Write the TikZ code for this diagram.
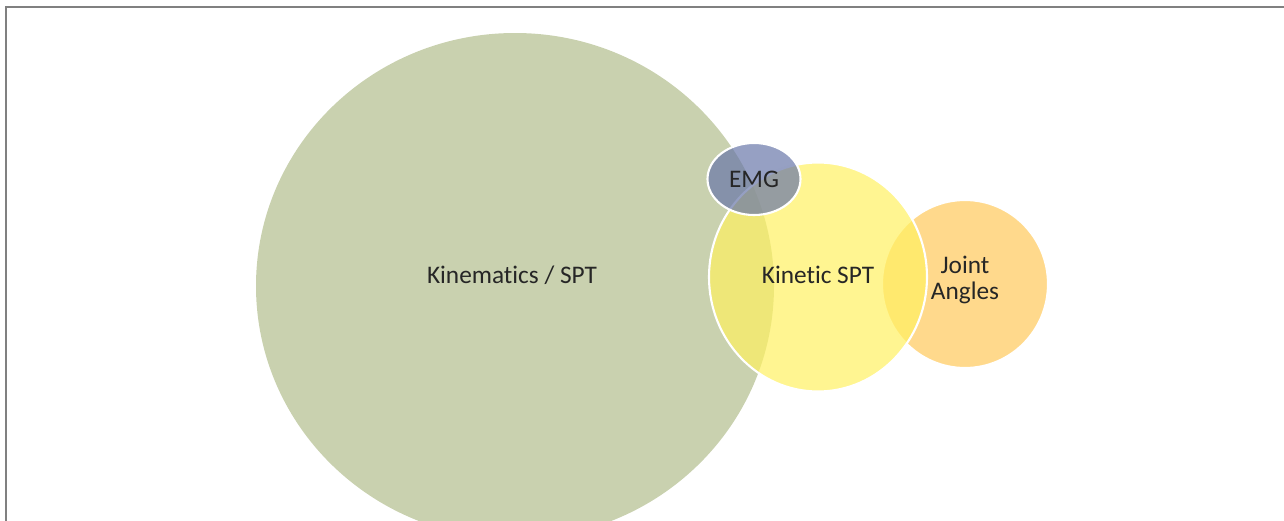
\documentclass[tikz,border=0pt]{standalone}
\usepackage{fontspec}
\setmainfont{Carlito}[Ligatures={NoCommon}]
\usepackage{tikz}
\usetikzlibrary{shapes.geometric, positioning}

\definecolor{kinGreen}{RGB}{201,209,175}
\definecolor{spYellow}{RGB}{255,241,98}
\definecolor{jaOrange}{RGB}{255,201,91}
\definecolor{emgBlue}{RGB}{105,119,169}
\definecolor{frameGray}{RGB}{128,128,128}

\begin{document}
\begin{tikzpicture}[thick]

	\tikzset{
		blob/.style={
				ellipse, inner sep=0pt, outer sep=0pt
			},
		setA/.style={
				blob, fill=kinGreen, draw=none
			},
		setB/.style={
				blob, fill=#1, fill opacity=0.7, draw=white, draw opacity=1, line width=1.2pt
			},
		lbl/.style={
				text=black!85, font=\fontsize{14.4}{14.8}\selectfont, align=center, inner sep=0pt
			},
	}
	\useasboundingbox (0,0) rectangle (25.68,-10.42);
	\clip (0,0) rectangle (25.68,-10.42);

	% frame
	\draw[frameGray, line width=0.85pt] (0.12,-10.5) -- (0.12,-0.14) -- (25.8,-0.14);

	% sets
	\node[setA, minimum width=10.36cm, minimum height=10.12cm](kin) at (10.30,-5.72){};
	\node[setB=jaOrange, minimum width=3.32cm, minimum height=3.36cm](joint) at (19.30,-5.68){};
	\node[setB=spYellow, minimum width=4.36cm, minimum height=4.58cm](kspt) at (16.36,-5.54){};
	\node[setB=emgBlue, minimum width=1.86cm, minimum height=1.44cm](emg) at (15.08,-3.58){};

	% labels
	\node[lbl, anchor=base](kinlbl) at (10.24,-5.66){Kinematics / SPT};
	\node[lbl, anchor=base](emglbl) at (15.08,-3.74){EMG};
	\node[lbl, anchor=base](ksptlbl) at (16.36,-5.66){Kinetic SPT};
	\node[lbl](jointlbl) at (19.30,-5.60){Joint\\Angles};

\end{tikzpicture}
\end{document}
